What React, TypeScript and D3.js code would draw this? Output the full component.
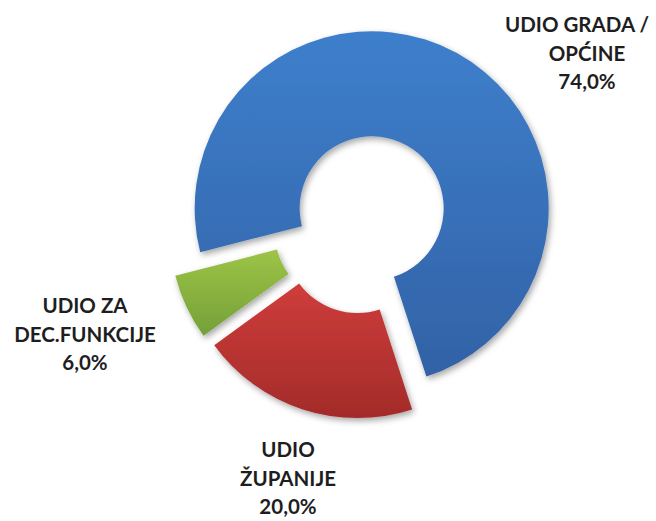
import React from 'react';
import * as d3 from 'd3';

// data
const categories = ['UDIO GRADA / OPĆINE', 'UDIO ŽUPANIJE', 'UDIO ZA DEC.FUNKCIJE'];
const labelLines = [['UDIO GRADA /', 'OPĆINE'], ['UDIO', 'ŽUPANIJE'], ['UDIO ZA', 'DEC.FUNKCIJE']];
const values = [74, 20, 6];
const colorsTop = ['#3e7fcc', '#cf3d3b', '#9dc447'];
const colorsBottom = ['#3262a6', '#a32b2a', '#74a039'];

// layout
const width = 656;
const height = 521;
const cx = 363;
const cy = 224;
const innerR = 72;
const outerR = 177;
const explode = 18;
const startDeg = 255.6;
const labelPos = [
  { x: 587, y: 32, firstDx: -10 },
  { x: 288, y: 457, firstDx: 0 },
  { x: 85, y: 313, firstDx: 0 },
];
const lineH = 28.5;

const fmt = d3.formatLocale({ decimal: ',', thousands: '.', grouping: [3], currency: ['', ''] }).format('.1f');

export default function App() {
  const start = (startDeg * Math.PI) / 180;
  const pie = d3.pie<number>().sort(null).startAngle(start).endAngle(start + 2 * Math.PI);
  const arcs = pie(values);
  const arc = d3.arc<d3.PieArcDatum<number>>().innerRadius(innerR).outerRadius(outerR);
  const total = d3.sum(values);

  return (
    <svg
      width={width}
      height={height}
      style={{ position: 'absolute', left: 0, top: 0, display: 'block', background: '#fff' }}
    >
      <defs>
        {values.map((_, i) => (
          <linearGradient key={i} id={`grad${i}`} x1="0" y1="0" x2="0" y2="1">
            <stop offset="0%" stopColor={colorsTop[i]} />
            <stop offset="100%" stopColor={colorsBottom[i]} />
          </linearGradient>
        ))}
        <filter id="shadow" x="-20%" y="-20%" width="140%" height="140%">
          <feDropShadow dx="2" dy="3" stdDeviation="3" floodColor="#000" floodOpacity="0.35" />
        </filter>
      </defs>
      <g transform={`translate(${cx},${cy})`}>
        {arcs.map((a, i) => {
          const mid = (a.startAngle + a.endAngle) / 2;
          const ox = Math.sin(mid) * explode;
          const oy = -Math.cos(mid) * explode;
          return (
            <path
              key={categories[i]}
              d={arc(a) || ''}
              transform={`translate(${ox},${oy})`}
              fill={`url(#grad${i})`}
              filter="url(#shadow)"
            />
          );
        })}
      </g>
      <g
        fontFamily="Lato, 'Open Sans', sans-serif"
        fontWeight="bold"
        fontSize={20.5}
        fill="#1e1e1e"
        textAnchor="middle"
      >
        {labelLines.map((lines, i) => {
          const p = labelPos[i];
          const all = [...lines, `${fmt((values[i] / total) * 100)}%`];
          return (
            <text key={i}>
              {all.map((t, j) => (
                <tspan key={j} x={p.x + (j === 0 ? p.firstDx : 0)} y={p.y + j * lineH}>
                  {t}
                </tspan>
              ))}
            </text>
          );
        })}
      </g>
    </svg>
  );
}
